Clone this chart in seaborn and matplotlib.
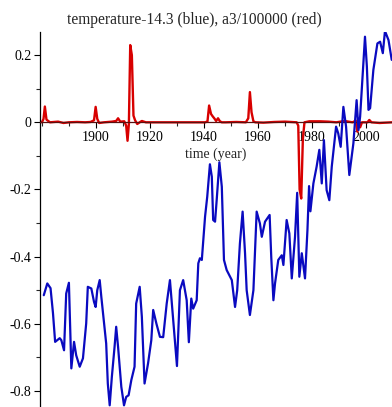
import matplotlib
matplotlib.use("Agg")
import matplotlib.pyplot as plt
import seaborn as sns
import pandas as pd
from matplotlib.ticker import MultipleLocator, FixedLocator

# ---- data ----
blue_years = [1880.7, 1882.0, 1883.2, 1884.1, 1884.9, 1886.6, 1887.2, 1888.2, 1889.0, 1890.0,
              1890.9, 1891.9, 1892.7, 1894.0, 1895.2, 1896.4, 1897.0, 1898.3, 1899.3, 1899.9,
              1900.5, 1901.4, 1902.0, 1903.0, 1903.8, 1904.4, 1905.1, 1905.9, 1906.9, 1907.5,
              1908.2, 1909.4, 1910.4, 1911.2, 1912.1, 1913.1, 1914.3, 1914.9, 1916.2, 1917.0,
              1918.0, 1919.3, 1920.5, 1921.2, 1922.4, 1923.7, 1924.9, 1926.2, 1927.4, 1928.4,
              1930.0, 1931.1, 1932.3, 1933.6, 1934.4, 1935.3, 1936.0, 1937.3, 1937.9, 1938.5,
              1939.2, 1940.4, 1941.2, 1942.2, 1942.9, 1943.4, 1944.1, 1944.7, 1945.7, 1946.6,
              1947.4, 1948.4, 1950.3, 1951.5, 1952.3, 1953.3, 1954.3, 1955.2, 1955.8, 1957.0,
              1958.3, 1958.9, 1959.5, 1960.7, 1961.4, 1962.6, 1964.3, 1964.9, 1965.7, 1966.3,
              1967.5, 1968.8, 1969.4, 1970.6, 1971.6, 1972.5, 1973.7, 1974.5, 1975.3, 1976.2,
              1977.4, 1978.3, 1978.9, 1979.4, 1980.5, 1981.7, 1982.7, 1983.6, 1984.4, 1985.4,
              1986.4, 1987.3, 1988.9, 1989.7, 1990.6, 1991.6, 1992.6, 1993.8, 1995.3, 1996.5,
              1997.2, 1997.8, 1999.0, 1999.6, 2000.3, 2000.9, 2001.5, 2002.7, 2004.2, 2005.2,
              2006.2, 2007.0, 2008.3, 2009.5]
blue_temp = [-0.515, -0.480, -0.494, -0.568, -0.654, -0.643, -0.649, -0.679, -0.510, -0.478,
             -0.733, -0.654, -0.694, -0.728, -0.703, -0.599, -0.490, -0.495, -0.535, -0.550,
             -0.500, -0.470, -0.520, -0.599, -0.659, -0.778, -0.843, -0.758, -0.669, -0.609,
             -0.669, -0.788, -0.843, -0.818, -0.813, -0.768, -0.728, -0.540, -0.490, -0.579,
             -0.778, -0.718, -0.649, -0.559, -0.600, -0.639, -0.640, -0.540, -0.470, -0.569,
             -0.726, -0.500, -0.470, -0.530, -0.655, -0.525, -0.555, -0.530, -0.420, -0.405,
             -0.410, -0.281, -0.222, -0.125, -0.162, -0.291, -0.296, -0.232, -0.119, -0.192,
             -0.410, -0.440, -0.470, -0.550, -0.500, -0.361, -0.266, -0.390, -0.500, -0.574,
             -0.500, -0.381, -0.266, -0.301, -0.341, -0.296, -0.276, -0.401, -0.530, -0.480,
             -0.410, -0.396, -0.425, -0.291, -0.331, -0.465, -0.341, -0.210, -0.460, -0.390,
             -0.465, -0.321, -0.190, -0.265, -0.182, -0.132, -0.082, -0.182, -0.053, -0.202,
             -0.232, -0.132, -0.013, -0.033, -0.073, 0.046, -0.013, -0.157, -0.063, 0.066,
             -0.023, 0.017, 0.176, 0.255, 0.166, 0.037, 0.042, 0.156, 0.235, 0.240,
             0.206, 0.272, 0.245, 0.186]

red_years = [1880.0, 1880.6, 1881.1, 1881.7, 1883.0, 1886.0, 1888.0, 1890.0, 1893.0, 1896.0,
             1898.0, 1899.3, 1899.9, 1900.5, 1901.2, 1903.0, 1906.0, 1907.5, 1908.2, 1909.0,
             1910.5, 1911.2, 1911.7, 1912.2, 1912.7, 1913.3, 1913.9, 1914.5, 1915.3, 1916.2,
             1917.0, 1918.5, 1921.0, 1925.0, 1930.0, 1935.0, 1940.5, 1941.3, 1941.9, 1942.6,
             1943.2, 1943.8, 1944.5, 1945.2, 1945.9, 1946.6, 1948.0, 1952.0, 1955.5, 1956.4,
             1957.0, 1957.6, 1958.3, 1959.0, 1962.0, 1966.0, 1970.0, 1974.3, 1974.9, 1975.4,
             1976.0, 1976.6, 1977.2, 1979.0, 1983.0, 1986.0, 1989.0, 1992.0, 1995.0, 1996.2,
             1996.8, 1997.3, 1997.8, 1998.5, 2000.5, 2001.2, 2002.0, 2005.0, 2009.6]
red_a3 = [0.0, 0.010, 0.047, 0.008, 0.0, 0.002, -0.002, 0.0, 0.001, 0.0,
          0.001, 0.006, 0.046, 0.010, -0.002, 0.0, 0.002, 0.004, 0.012, 0.002,
          0.003, -0.010, -0.055, -0.005, 0.230, 0.200, 0.020, 0.006, -0.005, 0.0,
          0.004, 0.0, 0.0, 0.0, 0.0, 0.0, 0.0, 0.003, 0.050, 0.025,
          0.018, 0.012, 0.004, 0.012, 0.003, 0.0, 0.0, 0.001, 0.0, 0.012,
          0.090, 0.030, 0.003, 0.0, -0.001, 0.001, 0.002, 0.0, -0.010, -0.200,
          -0.227, -0.050, 0.0, 0.003, 0.003, 0.002, 0.0, 0.004, 0.0, 0.005,
          -0.028, 0.010, -0.015, 0.0, 0.0, 0.007, 0.0, -0.002, 0.0]

x_ticks = [1900, 1920, 1940, 1960, 1980, 2000]
y_ticks = [0.2, 0.0, -0.2, -0.4, -0.6, -0.8]
y_tick_labels = ["0.2", "0", "-0.2", "-0.4", "-0.6", "-0.8"]

title_text = "temperature-14.3 (blue), a3/100000 (red)"
xlabel_text = "time (year)"

# ---- plotting ----
sns.set_style("white")
plt.rcParams["font.family"] = ["Liberation Serif", "DejaVu Serif"]
plt.rcParams["axes.unicode_minus"] = False

fig = plt.figure(figsize=(3.92, 4.07), dpi=100)
ax = fig.add_axes([40 / 392, 0.0, 352 / 392, 375 / 407])

df_blue = pd.DataFrame({"year": blue_years, "value": blue_temp})
df_red = pd.DataFrame({"year": red_years, "value": red_a3})

sns.lineplot(data=df_red, x="year", y="value", ax=ax, color="#d80000",
             linewidth=1.7, zorder=2, estimator=None, sort=False)
sns.lineplot(data=df_blue, x="year", y="value", ax=ax, color="#0a0ac0",
             linewidth=1.6, zorder=3, estimator=None, sort=False)

ax.set_xlim(1879.3, 2009.6)
ax.set_ylim(-0.848, 0.269)

for s in ["top", "right"]:
    ax.spines[s].set_visible(False)
ax.spines["bottom"].set_position(("data", 0))
ax.spines["bottom"].set_zorder(2.5)
ax.spines["bottom"].set_color("#5a1010")
ax.spines["left"].set_color("black")
ax.spines["bottom"].set_linewidth(0.9)
ax.spines["left"].set_linewidth(0.9)

ax.xaxis.set_major_locator(FixedLocator(x_ticks))
ax.xaxis.set_minor_locator(MultipleLocator(10))
ax.yaxis.set_major_locator(FixedLocator(y_ticks))
ax.set_yticklabels(y_tick_labels)
ax.yaxis.set_minor_locator(MultipleLocator(0.1))

ax.tick_params(axis="both", which="major", direction="out", length=4, width=0.8,
               labelsize=10, colors="black")
ax.tick_params(axis="both", which="minor", direction="out", length=3, width=0.8)
ax.tick_params(axis="x", which="major", pad=2, bottom=True)
ax.tick_params(axis="y", which="major", pad=2, left=True)
ax.tick_params(axis="x", which="minor", bottom=True)
ax.tick_params(axis="y", which="minor", left=True)

ax.set_xlabel(xlabel_text, fontsize=10)
ax.xaxis.label.set_va("center")
ax.xaxis.set_label_coords(0.5, (407 - 154) / 375)
ax.set_ylabel("")

fig.text(194 / 392, 1 - 20 / 407, title_text, ha="center", va="center", fontsize=11.2)

fig.savefig("out.png", dpi=100)
